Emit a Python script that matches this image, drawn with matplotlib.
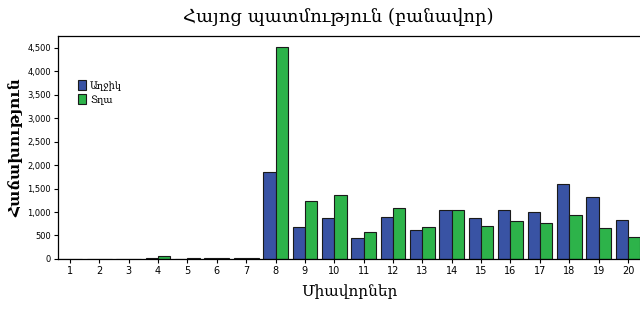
import numpy as np
import matplotlib.pyplot as plt

categories = list(range(1, 21))
girls = [5, 5, 5, 25, 5, 20, 10, 1850, 690, 875, 450, 890, 620, 1050, 880, 1045, 995, 1605, 1330, 830]
boys = [5, 5, 5, 70, 10, 15, 15, 4530, 1240, 1365, 585, 1090, 685, 1050, 705, 800, 770, 945, 670, 470]
yticks = [0, 500, 1000, 1500, 2000, 2500, 3000, 3500, 4000, 4500]

fig = plt.figure(figsize=(6.4, 3.15), dpi=100)
ax = fig.add_axes([0.0906, 0.178, 0.9094, 0.708])

x = np.array(categories)
w = 0.42
ax.bar(x - w/2, girls, w, color='#3953a4', edgecolor='#1a1a1a', linewidth=0.8, label='Աղջիկ')
ax.bar(x + w/2, boys, w, color='#2db34a', edgecolor='#1a1a1a', linewidth=0.8, label='Տղա')

ax.set_xlim(0.591, 20.41)
ax.set_ylim(0, 4757)
ax.set_xticks(categories)
ax.set_xticklabels([str(c) for c in categories], fontsize=7)
ax.set_yticks(yticks)
ax.set_yticklabels([f'{v:,}' for v in yticks], fontsize=6)
ax.tick_params(axis='both', length=3, width=0.8, direction='out', pad=2)
ax.spines['right'].set_visible(False)
for s in ['left', 'bottom', 'top']:
    ax.spines[s].set_linewidth(0.9)

fig.text(0.528, 0.945, 'Հայոց պատմություն (բանավոր)', ha='center', va='center',
         fontsize=13, family='DejaVu Serif')
ax.set_ylabel('Հաճախություն', fontsize=11, family='DejaVu Serif', fontweight='bold', labelpad=3)
ax.set_xlabel('Միավորներ', fontsize=11, family='DejaVu Serif', labelpad=6)

ax.legend(loc='upper left', bbox_to_anchor=(0.02, 0.84), frameon=False,
          prop={'family': 'DejaVu Serif', 'size': 7}, handlelength=0.8, handleheight=1.2,
          handletextpad=0.4, labelspacing=0.4)

fig.savefig('out.png', dpi=100)
